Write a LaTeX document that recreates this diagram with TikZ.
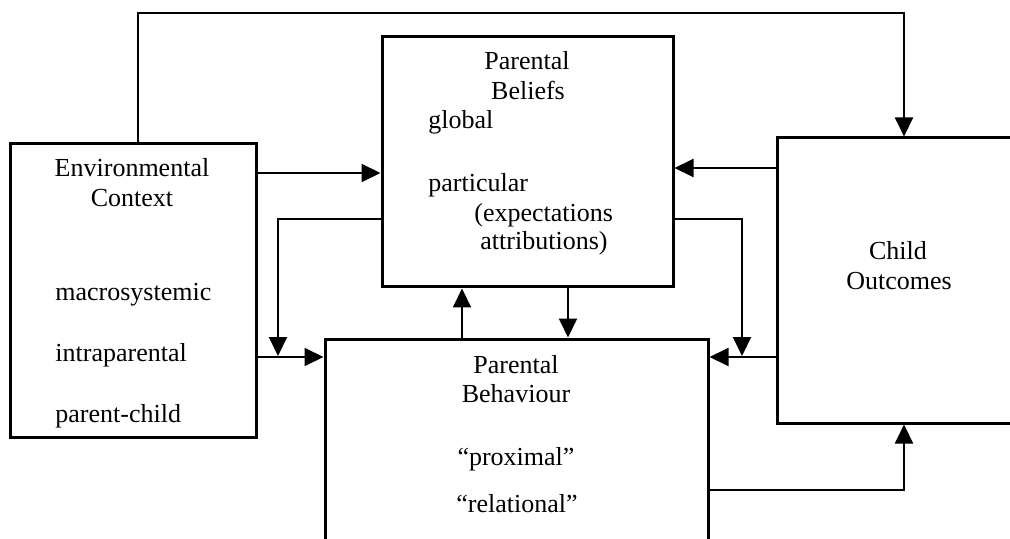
\documentclass[tikz,border=0pt]{standalone}
\usepackage{fontspec}
\setmainfont{Liberation Serif}
\usetikzlibrary{arrows.meta}
\begin{document}
\begin{tikzpicture}[x=0.5pt,y=-0.5pt,
  boxst/.style={draw,line width=1.5pt,rectangle,inner sep=0pt},
  conn/.style={line width=1pt},
  arr/.style={conn,-{Triangle[length=9.5pt,width=9pt]}},
  lbl/.style={font=\fontsize{13pt}{15pt}\selectfont,inner sep=0pt,anchor=base},
  lblw/.style={lbl,anchor=base west}]
\useasboundingbox (0,0) rectangle (1010,539);
\clip (0,0) rectangle (1010,539);
% boxes
\node[boxst,minimum width=123pt,minimum height=146.5pt] (env) at (133,290.5) {};
\node[boxst,minimum width=145.5pt,minimum height=125pt] (bel) at (527.5,162) {};
\node[boxst,minimum width=121.5pt,minimum height=142.5pt] (child) at (898.5,280.5) {};
\node[boxst,minimum width=191.5pt,minimum height=103pt] (beh) at (516.5,442) {};
% texts
\node[lbl] (e1) at (132,177) {Environmental};
\node[lbl] (e2) at (132,207) {Context};
\node[lblw] (e3) at (55,300) {macrosystemic};
\node[lblw] (e4) at (55,361) {intraparental};
\node[lblw] (e5) at (55,422) {parent-child};
\node[lbl] (b1) at (527,70) {Parental};
\node[lbl] (b2) at (528,100) {Beliefs};
\node[lblw] (b3) at (428,129) {global};
\node[lblw] (b4) at (428,192) {particular};
\node[lblw] (b5) at (474,222) {(expectations};
\node[lblw] (b6) at (480,250) {attributions)};
\node[lbl] (c1) at (898,260) {Child};
\node[lbl] (c2) at (899,290) {Outcomes};
\node[lbl] (h1) at (516,373) {Parental};
\node[lbl] (h2) at (516,402) {Behaviour};
\node[lbl] (h3) at (516,465) {“proximal”};
\node[lbl] (h4) at (517,512) {“relational”};
% connectors
\coordinate (tl) at (138,13);
\coordinate (tr) at (904,13);
\draw[arr] (tl |- env.north) -- (tl) -- (tr) -- (tr |- child.north);
\draw[arr] (env.east |- 0,173) -- (bel.west |- 0,173);
\draw[arr] (child.west |- 0,168) -- (bel.east |- 0,168);
\coordinate (jl) at (278,356);
\coordinate (jr) at (742,356);
\draw[arr] (bel.west |- 0,219) -- (jl |- 0,219) -- (jl);
\draw[arr] (bel.east |- 0,219) -- (jr |- 0,219) -- (jr);
\draw[arr] (env.east |- 0,357) -- (beh.west |- 0,357);
\draw[arr] (child.west |- 0,357) -- (beh.east |- 0,357);
\draw[arr] (462,0 |- beh.north) -- (462,0 |- bel.south);
\draw[arr] (568,0 |- bel.south) -- (568,0 |- beh.north);
\coordinate (br) at (904,490);
\draw[arr] (beh.east |- br) -- (br) -- (br |- child.south);
\end{tikzpicture}
\end{document}
